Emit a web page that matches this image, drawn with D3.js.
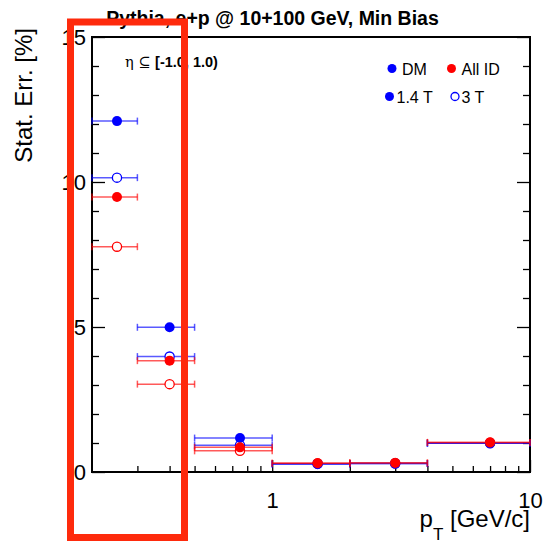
<!DOCTYPE html>
<html>
<head>
<meta charset="utf-8">
<script src="https://cdn.jsdelivr.net/npm/d3@7"></script>
<style>
  body { margin: 0; background: #fff; }
  svg { display: block; font-family: "Liberation Sans", Arial, Helvetica, sans-serif; }
  .tick text { font-size: 22px; fill: #000; }
  .tick line { stroke: #000; stroke-width: 1.3; }
</style>
</head>
<body>
<svg id="chart" width="544" height="545"></svg>
<script>
// pT bins [GeV/c]
var binLo  = [0.2, 0.3, 0.5, 1, 2, 4];
var binHi  = [0.3, 0.5, 1, 2, 4, 10];
var binMid = [0.25, 0.4, 0.75, 1.5, 3, 7];

// stat. error [%]
var dm14    = [12.1, 4.99, 1.17, 0.28, 0.29, 0.99];
var dm3     = [10.15, 3.98, 0.92, 0.28, 0.29, 0.99];
var allid14 = [9.48, 3.84, 0.85, 0.30, 0.31, 1.02];
var allid3  = [7.77, 3.03, 0.73, 0.30, 0.31, 1.02];

var yMajor = [0, 5, 10, 15];
var yMinor = [1, 2, 3, 4, 6, 7, 8, 9, 11, 12, 13, 14];
var xMajor = [1, 10];
var xMinor = [0.3, 0.4, 0.5, 0.6, 0.7, 0.8, 0.9, 2, 3, 4, 5, 6, 7, 8, 9];

var svg = d3.select('#chart');
var padL = 92, padR = 530, padT = 37, padB = 472;

var x = d3.scaleLog().domain([0.2, 10]).range([padL, padR]);
var y = d3.scaleLinear().domain([0, 15]).range([padB, padT]);

//y axis, left
svg.append('g')
  .attr('transform', 'translate(' + padL + ',0)')
  .call(d3.axisLeft(y).tickValues(yMajor).tickSize(-13).tickPadding(6).tickFormat(d3.format('d')))
  .call(function(g) { g.select('.domain').remove(); });
svg.append('g')
  .attr('transform', 'translate(' + padL + ',0)')
  .call(d3.axisLeft(y).tickValues(yMinor).tickSize(-7).tickFormat(''))
  .call(function(g) { g.select('.domain').remove(); });

//y axis, right (ticks only)
svg.append('g')
  .attr('transform', 'translate(' + padR + ',0)')
  .call(d3.axisRight(y).tickValues(yMajor).tickSize(-13).tickFormat(''))
  .call(function(g) { g.select('.domain').remove(); });
svg.append('g')
  .attr('transform', 'translate(' + padR + ',0)')
  .call(d3.axisRight(y).tickValues(yMinor).tickSize(-7).tickFormat(''))
  .call(function(g) { g.select('.domain').remove(); });

//x axis
svg.append('g')
  .attr('transform', 'translate(0,' + padB + ')')
  .call(d3.axisBottom(x).tickValues(xMajor).tickSize(-12).tickPadding(20).tickFormat(d3.format('d')))
  .call(function(g) { g.select('.domain').remove(); });
svg.append('g')
  .attr('transform', 'translate(0,' + padB + ')')
  .call(d3.axisBottom(x).tickValues(xMinor).tickSize(-6).tickFormat(''))
  .call(function(g) { g.select('.domain').remove(); });

//frame
svg.append('rect')
  .attr('x', padL).attr('y', padT)
  .attr('width', padR - padL).attr('height', padB - padT)
  .attr('fill', 'none').attr('stroke', '#000').attr('stroke-width', 2);

//series: open (3 T) drawn first, filled (1.4 T) on top
var series = [
  { vals: dm3,     color: '#0000ff', open: true },
  { vals: allid3,  color: '#ff0000', open: true },
  { vals: dm14,    color: '#0000ff', open: false },
  { vals: allid14, color: '#ff0000', open: false }
];

series.forEach(function(s) {
  var g = svg.append('g');
  var pts = s.vals.map(function(v, i) {
    return { lo: binLo[i], hi: binHi[i], mid: binMid[i], v: v };
  });

  var eb = g.selectAll('g.eb').data(pts).enter().append('g')
    .attr('class', 'eb')
    .attr('stroke', s.color)
    .attr('stroke-opacity', 0.65)
    .attr('stroke-width', 1.5);
  eb.append('line')
    .attr('x1', function(d) { return x(d.lo); })
    .attr('x2', function(d) { return x(d.hi); })
    .attr('y1', function(d) { return y(d.v); })
    .attr('y2', function(d) { return y(d.v); });
  eb.append('line')
    .attr('x1', function(d) { return x(d.lo); })
    .attr('x2', function(d) { return x(d.lo); })
    .attr('y1', function(d) { return y(d.v) - 3.5; })
    .attr('y2', function(d) { return y(d.v) + 3.5; });
  eb.append('line')
    .attr('x1', function(d) { return x(d.hi); })
    .attr('x2', function(d) { return x(d.hi); })
    .attr('y1', function(d) { return y(d.v) - 3.5; })
    .attr('y2', function(d) { return y(d.v) + 3.5; });

  g.selectAll('circle').data(pts).enter().append('circle')
    .attr('cx', function(d) { return x(d.mid); })
    .attr('cy', function(d) { return y(d.v); })
    .attr('r', s.open ? 4.6 : 5)
    .attr('fill', s.open ? '#fff' : s.color)
    .attr('stroke', s.color)
    .attr('stroke-width', s.open ? 1.3 : 0);
});

//legend
var legend = [
  { cx: 392, cy: 68.5, tx: 402, ty: 75, label: 'DM', color: '#0000ff', open: false },
  { cx: 451.5, cy: 68.5, tx: 461.5, ty: 75, label: 'All ID', color: '#ff0000', open: false },
  { cx: 389.5, cy: 96.5, tx: 396.5, ty: 103, label: '1.4 T', color: '#0000ff', open: false },
  { cx: 455, cy: 96.5, tx: 461.5, ty: 103, label: '3 T', color: '#0000ff', open: true }
];
var lg = svg.append('g').selectAll('g').data(legend).enter().append('g');
lg.append('circle')
  .attr('cx', function(d) { return d.cx; })
  .attr('cy', function(d) { return d.cy; })
  .attr('r', function(d) { return d.open ? 4 : 4.5; })
  .attr('fill', function(d) { return d.open ? '#fff' : d.color; })
  .attr('stroke', function(d) { return d.color; })
  .attr('stroke-width', function(d) { return d.open ? 1.3 : 0; });
lg.append('text')
  .attr('x', function(d) { return d.tx; })
  .attr('y', function(d) { return d.ty; })
  .attr('font-size', 16)
  .text(function(d) { return d.label; });

//eta range
var eta = svg.append('text').attr('x', 125).attr('y', 67).attr('font-size', 14.5);
eta.append('tspan').attr('font-family', '"DejaVu Serif", serif').text('η ⊆ ');
eta.append('tspan').attr('font-weight', 'bold').text('[-1.0, 1.0)');

//title
svg.append('text')
  .attr('x', 272.5).attr('y', 25)
  .attr('text-anchor', 'middle')
  .attr('font-size', 19.5).attr('font-weight', 'bold')
  .text('Pythia, e+p @ 10+100 GeV, Min Bias');

//axis titles
svg.append('text')
  .attr('transform', 'translate(32,28) rotate(-90)')
  .attr('text-anchor', 'end')
  .attr('font-size', 24)
  .text('Stat. Err. [%]');

var xt = svg.append('text')
  .attr('x', 530).attr('y', 527)
  .attr('text-anchor', 'end')
  .attr('font-size', 24);
xt.append('tspan').text('p');
xt.append('tspan').attr('font-size', 17).attr('dy', 13).text('T');
xt.append('tspan').attr('dy', -13).text(' [GeV/c]');

//red highlight box
svg.append('rect')
  .attr('x', 70.5).attr('y', 22)
  .attr('width', 114).attr('height', 515.5)
  .attr('fill', 'none')
  .attr('stroke', '#fe2a0c')
  .attr('stroke-width', 7);
</script>
</body>
</html>
